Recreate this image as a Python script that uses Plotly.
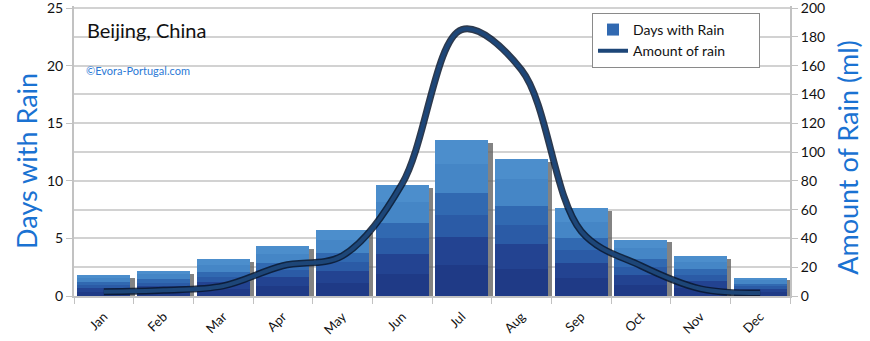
import plotly.graph_objects as go

# Monthly climate data for Beijing
months = ["Jan", "Feb", "Mar", "Apr", "May", "Jun",
          "Jul", "Aug", "Sep", "Oct", "Nov", "Dec"]
days_with_rain = [1.8, 2.2, 3.2, 4.3, 5.7, 9.6, 13.5, 11.9, 7.6, 4.9, 3.5, 1.6]
rain_ml = [3, 4, 7, 21, 28, 78, 185, 157, 45, 21, 5, 2]

left_ticks = [0, 5, 10, 15, 20, 25]
right_ticks = [0, 20, 40, 60, 80, 100, 120, 140, 160, 180, 200]

FONT = "Lato"
BAR_W = 0.89
NBSP = "\u00a0"

# the plot box is 290 px tall; leave 2 px of headroom above the top gridline
TOP_PAD = 290 / 288
left_range = [0, 25 * TOP_PAD]
right_range = [0, 200 * TOP_PAD]

fig = go.Figure()

# soft drop shadow behind each bar
fig.add_trace(go.Bar(
    x=months, y=[v - 0.25 for v in days_with_rain],
    width=BAR_W, offset=-BAR_W / 2 + 0.07,
    marker=dict(color="rgba(100,100,100,0.8)", line=dict(width=0)),
    showlegend=False, hoverinfo="skip",
))

# layered fills give the bars a light-top / dark-bottom shading
layers = [
    (1.00, "#4c8ecc", False),
    (0.85, "#4586c6", False),
    (0.66, "#3169b1", True),
    (0.52, "#2b5ba6", False),
    (0.38, "#234391", False),
    (0.20, "#1f3a86", False),
]
for frac, color, legend in layers:
    fig.add_trace(go.Bar(
        x=months, y=[v * frac for v in days_with_rain],
        width=BAR_W,
        marker=dict(color=color, line=dict(width=0)),
        name="Days with Rain" + NBSP * 8, showlegend=legend,
        legendgroup="days", hoverinfo="skip" if not legend else None,
    ))

# rainfall curve on the secondary axis, with a dark rim underneath
fig.add_trace(go.Scatter(
    x=months, y=rain_ml, yaxis="y2", mode="lines",
    line=dict(color="rgba(8,22,45,0.85)", width=7, shape="spline"),
    showlegend=False, hoverinfo="skip",
))
fig.add_trace(go.Scatter(
    x=months, y=rain_ml, yaxis="y2", mode="lines",
    line=dict(color="#1d4678", width=4, shape="spline"),
    name="Amount of rain" + NBSP * 8,
))

axis_grey = "#c2c2c2"
fig.update_layout(
    width=870, height=341,
    margin=dict(l=74, r=80, t=6, b=45),
    paper_bgcolor="white", plot_bgcolor="white",
    barmode="overlay", bargap=0,
    font=dict(family=FONT, size=13, color="#111111"),
    xaxis=dict(
        type="category", tickangle=-45, tickson="boundaries",
        ticks="outside", ticklen=6, tickcolor=axis_grey,
        showline=True, linecolor=axis_grey, linewidth=2,
        showgrid=False, tickfont=dict(size=13), ticklabelstandoff=6,
        range=[-0.5, 11.5], automargin=False,
    ),
    yaxis=dict(
        range=left_range, tickvals=left_ticks,
        ticks="outside", ticklen=6, tickcolor=axis_grey,
        showline=True, linecolor=axis_grey, linewidth=2,
        showgrid=False, zeroline=False, tickfont=dict(size=14),
        ticklabeloverflow="allow", automargin=False,
    ),
    yaxis2=dict(
        overlaying="y", side="right", range=right_range, tickvals=right_ticks,
        ticks="outside", ticklen=6, tickcolor=axis_grey,
        showline=True, linecolor=axis_grey, linewidth=2,
        showgrid=True, gridcolor="#d2d2d2", gridwidth=1.5,
        zeroline=False, tickfont=dict(size=14),
        ticklabeloverflow="allow", automargin=False,
    ),
    legend=dict(
        x=0.7235, y=0.976, xanchor="left", yanchor="top",
        bgcolor="white", bordercolor="#8a8a8a", borderwidth=1,
        font=dict(size=14), itemwidth=30, traceorder="normal",
        tracegroupgap=2,
    ),
    annotations=[
        dict(text="Days with Rain", x=-0.0656, y=0.466, xref="paper", yref="paper",
             textangle=-90, showarrow=False, xanchor="center", yanchor="middle",
             font=dict(size=27, color="#1a72d2")),
        dict(text="Amount of Rain (ml)", x=1.081, y=0.48, xref="paper", yref="paper",
             textangle=-90, showarrow=False, xanchor="center", yanchor="middle",
             font=dict(size=27, color="#1a72d2")),
        dict(text="Beijing, China", x=0.0154, y=0.917, xref="paper", yref="paper",
             showarrow=False, xanchor="left", yanchor="middle",
             font=dict(size=20, color="#111111")),
        dict(text="©Evora-Portugal.com", x=0.014, y=0.779, xref="paper", yref="paper",
             showarrow=False, xanchor="left", yanchor="middle",
             font=dict(size=11, color="#2c7ad6")),
    ],
)

fig.write_html("out.html")
